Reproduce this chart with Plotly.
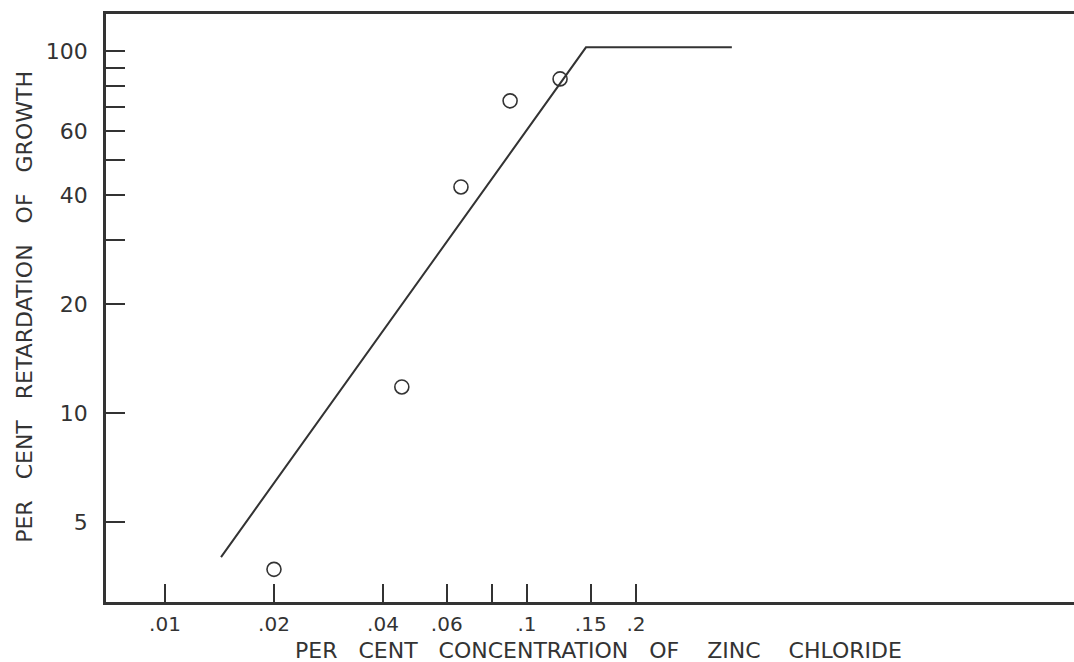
import plotly.graph_objects as go

# Observed data points (per cent concentration of ZnCl2, per cent retardation)
conc_points = [0.020, 0.0451, 0.0657, 0.0898, 0.1234]
retard_points = [3.7, 11.8, 42.1, 72.8, 83.7]

# Fitted line (drawn by hand in original)
line_conc = [0.01428, 0.1455, 0.368]
line_retard = [4.0, 102.3, 102.4]

# Axis ticks
x_tickvals = [0.01, 0.02, 0.04, 0.06, 0.08, 0.1, 0.15, 0.2]
x_ticktext = [".01", ".02", ".04", ".06", "", ".1", ".15", ".2"]
y_tickvals = [5, 10, 20, 30, 40, 50, 60, 70, 80, 90, 100]
y_ticktext = ["5", "10", "20", "", "40", "", "60", "", "", "", "100"]

ink = "#333333"
font_family = "DejaVu Sans"
NB = "\u00a0"

x_title = (f"PER{NB*3}CENT{NB*3}CONCENTRATION{NB*3}OF{NB*4}ZINC{NB*4}CHLORIDE")
y_title = (f"PER{NB*3}CENT{NB*3}RETARDATION{NB*3}OF{NB*3}GROWTH")

fig = go.Figure()
fig.add_trace(go.Scatter(
    x=line_conc, y=line_retard, mode="lines",
    line=dict(color=ink, width=2), hoverinfo="skip", showlegend=False))
fig.add_trace(go.Scatter(
    x=conc_points, y=retard_points, mode="markers",
    marker=dict(symbol="circle-open", size=14, color=ink, line=dict(width=1.6, color=ink)),
    showlegend=False))

fig.update_layout(
    width=1074, height=662,
    margin=dict(l=106, r=0, t=14, b=60),
    paper_bgcolor="white", plot_bgcolor="white",
    font=dict(family=font_family, color=ink),
    xaxis=dict(
        type="log", range=[-2.163, 0.511],
        tickvals=x_tickvals, ticktext=x_ticktext,
        ticks="inside", ticklen=18, tickwidth=2, tickcolor=ink,
        showline=True, linecolor=ink, linewidth=2.5, mirror=True,
        showgrid=False, zeroline=False,
        tickfont=dict(size=20, color=ink, family=font_family),
        ticklabelstandoff=2,
    ),
    yaxis=dict(
        type="log", range=[0.478, 2.102],
        tickvals=y_tickvals, ticktext=y_ticktext,
        ticks="inside", ticklen=19, tickwidth=2, tickcolor=ink,
        showline=True, linecolor=ink, linewidth=2.5, mirror=False,
        showgrid=False, zeroline=False,
        tickfont=dict(size=22, color=ink, family=font_family),
        ticklabelstandoff=11,
    ),
    annotations=[
        dict(text=x_title,
             xref="paper", yref="paper", x=0.509, y=-0.082,
             xanchor="center", yanchor="middle", showarrow=False,
             font=dict(size=22, color=ink, family=font_family)),
        dict(text=y_title,
             xref="paper", yref="paper", x=-0.0837, y=0.502,
             xanchor="center", yanchor="middle", textangle=-90, showarrow=False,
             font=dict(size=22, color=ink, family=font_family)),
    ],
)

# remove the browser's default 8px body margin so the figure fills the window
fig.write_html("out.html", config={"displayModeBar": False},
               post_script="document.body.style.margin='0px';")
